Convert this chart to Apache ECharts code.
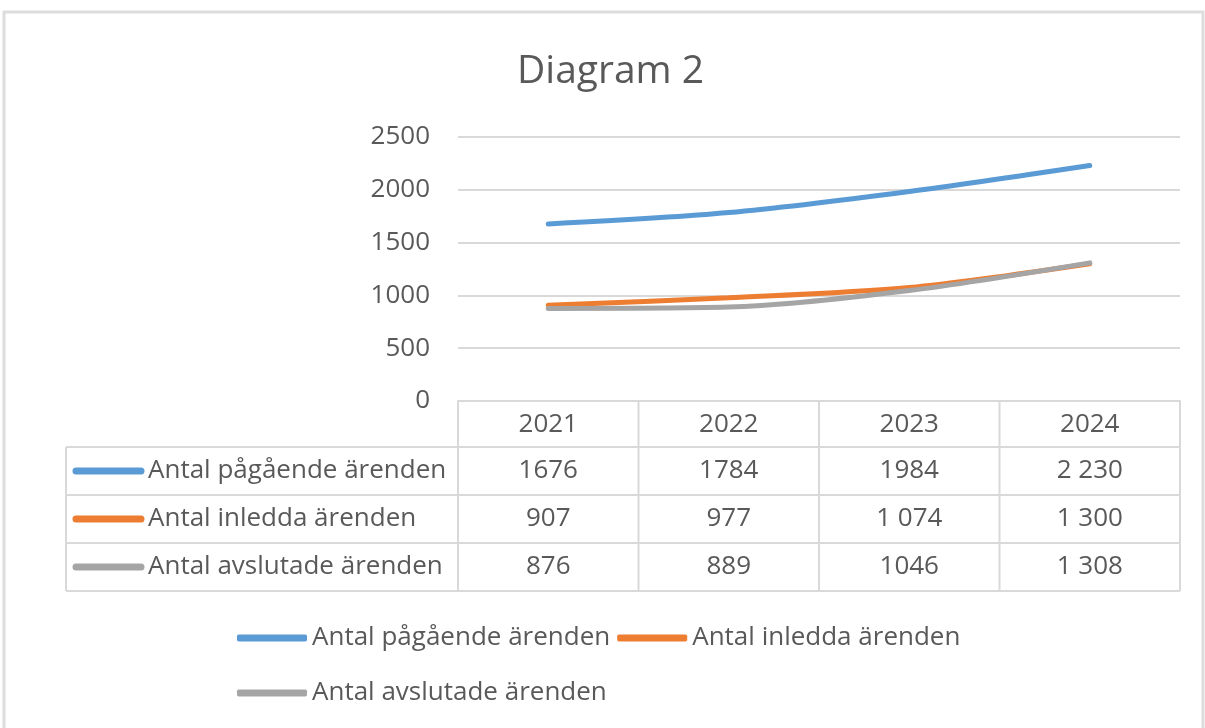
<!DOCTYPE html>
<html><head><meta charset="utf-8">
<script src="https://cdn.jsdelivr.net/npm/echarts@6/dist/echarts.min.js"></script>
<style>html,body{margin:0;padding:0;background:#fff}#c{width:1205px;height:728px}</style>
</head><body><div id="c"></div>
<script>
const categories = ['2021', '2022', '2023', '2024'];
const seriesNames = ['Antal pågående ärenden', 'Antal inledda ärenden', 'Antal avslutade ärenden'];
const pagaende = [1676, 1784, 1984, 2230];
const inledda = [907, 977, 1074, 1300];
const avslutade = [876, 889, 1046, 1308];
const pagaendeLabels = ['1676', '1784', '1984', '2 230'];
const inleddaLabels = ['907', '977', '1 074', '1 300'];
const avslutadeLabels = ['876', '889', '1046', '1 308'];
const yTicks = [0, 500, 1000, 1500, 2000, 2500];

const colors = ['#5B9BD5', '#ED7D31', '#A5A5A5'];
const txt = '#595959';
const gridC = '#D9D9D9';
const FONT = 'Open Sans';
const values = [pagaende, inledda, avslutade];
const tableLabels = [pagaendeLabels, inleddaLabels, avslutadeLabels];

const chart = echarts.init(document.getElementById('c'), null, {renderer: 'canvas'});
const gridLeft = 458, gridRight = 1180, gridTop = 137, gridBottom = 401;
const rowY = [401, 447, 495, 543, 591];
const tableLeft = 66;

const option = {
  backgroundColor: '#fff',
  animation: false,
  textStyle: {fontFamily: FONT},
  title: {
    text: 'Diagram 2', left: 512, top: 47,
    textStyle: {fontFamily: FONT, fontSize: 39, fontWeight: 'normal', color: txt}
  },
  grid: {left: gridLeft, right: 1205 - gridRight, top: gridTop, bottom: 728 - gridBottom, containLabel: false},
  xAxis: {
    type: 'category', data: categories, boundaryGap: true,
    axisLine: {show: true, lineStyle: {color: gridC, width: 2}},
    axisTick: {show: false},
    axisLabel: {color: txt, fontSize: 26, fontFamily: FONT, margin: 10, lineHeight: 28}
  },
  yAxis: {
    type: 'value', min: yTicks[0], max: yTicks[yTicks.length - 1], interval: 500,
    axisLine: {show: false}, axisTick: {show: false},
    splitLine: {lineStyle: {color: gridC, width: 2}},
    axisLabel: {color: txt, fontSize: 26, fontFamily: FONT, margin: 28, formatter: v => String(v)}
  },
  legend: [
    {
      data: seriesNames.slice(0, 2), left: 232, top: 620, itemWidth: 70, itemHeight: 7, itemGap: 7,
      icon: 'roundRect', textStyle: {color: txt, fontSize: 26, fontFamily: FONT}, selectedMode: false
    },
    {
      data: seriesNames.slice(2), left: 232, top: 675, itemWidth: 70, itemHeight: 7, itemGap: 7,
      icon: 'roundRect', textStyle: {color: txt, fontSize: 26, fontFamily: FONT}, selectedMode: false
    }
  ],
  series: seriesNames.map((n, i) => ({
    name: n, type: 'line', data: values[i], smooth: 0.3, symbol: 'none',
    lineStyle: {color: colors[i], width: 5, cap: 'round'}, itemStyle: {color: colors[i]}
  }))
};
chart.setOption(option);

const g = [];
g.push({type: 'rect', shape: {x: 4, y: 12, width: 1199, height: 730}, style: {fill: null, stroke: '#DDDDDD', lineWidth: 3}, z: 0});
const line = (x1, y1, x2, y2) => g.push({type: 'line', shape: {x1, y1, x2, y2}, style: {stroke: gridC, lineWidth: 2}, z: 1});
for (let r = 1; r < rowY.length; r++) line(tableLeft, rowY[r], gridRight, rowY[r]);
line(tableLeft, rowY[1], tableLeft, rowY[4]);
const cx = categories.map(c => chart.convertToPixel({xAxisIndex: 0}, c));
const half = (cx[1] - cx[0]) / 2;
const bounds = [cx[0] - half].concat(cx.map(x => x + half));
bounds.forEach(x => line(x, rowY[0], x, rowY[4]));
for (let s = 0; s < seriesNames.length; s++) {
  const yc = (rowY[s + 1] + rowY[s + 2]) / 2;
  g.push({type: 'line', shape: {x1: 76, y1: yc, x2: 141, y2: yc}, style: {stroke: colors[s], lineWidth: 7, lineCap: 'round'}, z: 2});
  g.push({type: 'text', x: 148, y: yc, style: {text: seriesNames[s], fill: txt, font: '26px "' + FONT + '"', textAlign: 'left', textVerticalAlign: 'middle'}, z: 2});
  tableLabels[s].forEach((t, k) => {
    g.push({type: 'text', x: cx[k], y: yc, style: {text: t, fill: txt, font: '26px "' + FONT + '"', textAlign: 'center', textVerticalAlign: 'middle'}, z: 2});
  });
}
chart.setOption({graphic: {elements: g}});
</script></body></html>
